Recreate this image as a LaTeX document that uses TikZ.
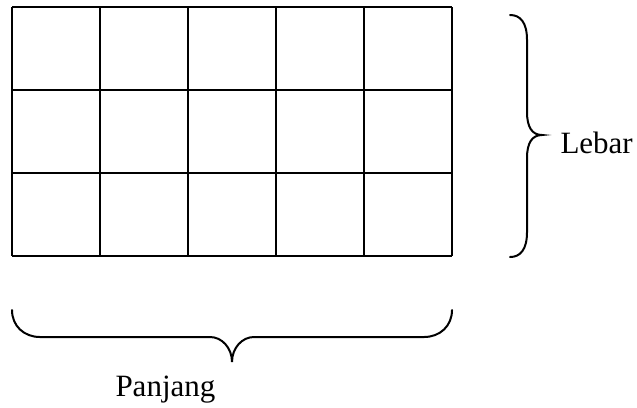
\documentclass[tikz,border=0pt]{standalone}
\usepackage{fontspec}
\setmainfont{Liberation Serif}
\usetikzlibrary{positioning}

\begin{document}
\begin{tikzpicture}[
  x=0.4pt, y=-0.4pt,
  cell/.style  = {line width=0.8pt},
  brace/.style = {line width=0.8pt, line cap=round},
  lbl/.style   = {inner sep=0pt, anchor=base west, font=\fontsize{12.4}{15}\selectfont},
  ]
  \useasboundingbox (0,0) rectangle (637,407);

  % Grid of 5 x 3 cells
  \foreach \x in {12,100,...,452}
    \draw[cell] (\x,7) -- (\x,256);
  \foreach \y in {7,90,173,256}
    \draw[cell] (12,\y) -- (452,\y);

  % Brace tips
  \coordinate (tipR) at (542,135);
  \coordinate (tipB) at (232,362);

  % Right brace (width)
  \draw[brace] (510,15) .. controls (520,15) and (527,22) .. (527,40)
    -- (527,112) .. controls (527,127) and (532,135) .. (tipR)
    .. controls (532,135) and (527,143) .. (527,158)
    -- (527,232) .. controls (527,250) and (520,257) .. (510,257);

  % Bottom brace (length)
  \draw[brace] (12,310) .. controls (12,326) and (24,337) .. (40,337)
    -- (210,337) .. controls (222,337) and (232,348) .. (tipB)
    .. controls (232,348) and (242,337) .. (254,337)
    -- (424,337) .. controls (440,337) and (452,326) .. (452,310);

  % Labels
  \node (lebar)   at (560,153) [lbl] {Lebar};
  \node (panjang) at (115,396) [lbl] {Panjang};
\end{tikzpicture}
\end{document}
